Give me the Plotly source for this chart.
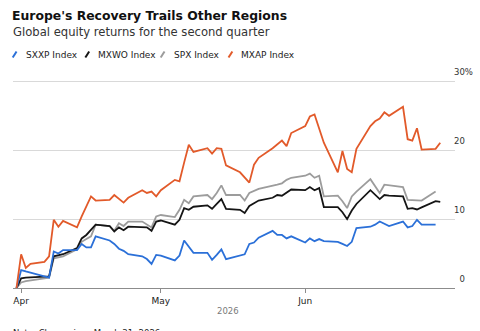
import plotly.graph_objects as go
import pandas as pd

# Trading days of the second quarter (closes since March 31, 2026)
dates = [
    "2026-03-31",
    "2026-04-01", "2026-04-02", "2026-04-03", "2026-04-06", "2026-04-07", "2026-04-08",
    "2026-04-09", "2026-04-10", "2026-04-13", "2026-04-14", "2026-04-15", "2026-04-16",
    "2026-04-17", "2026-04-20", "2026-04-21", "2026-04-22", "2026-04-23", "2026-04-24",
    "2026-04-27", "2026-04-28", "2026-04-29", "2026-04-30",
    "2026-05-01", "2026-05-04", "2026-05-05", "2026-05-06", "2026-05-07", "2026-05-08",
    "2026-05-11", "2026-05-12", "2026-05-13", "2026-05-14", "2026-05-15", "2026-05-18",
    "2026-05-19", "2026-05-20", "2026-05-21", "2026-05-22", "2026-05-25", "2026-05-26",
    "2026-05-27", "2026-05-28", "2026-05-29",
    "2026-06-01", "2026-06-02", "2026-06-03", "2026-06-04", "2026-06-05", "2026-06-08",
    "2026-06-09", "2026-06-10", "2026-06-11", "2026-06-12", "2026-06-15", "2026-06-16",
    "2026-06-17", "2026-06-18", "2026-06-19", "2026-06-22", "2026-06-23", "2026-06-24",
    "2026-06-25", "2026-06-26", "2026-06-29", "2026-06-30",
]

# Cumulative returns, % (None = no close that day)
sxxp = [
    0,
    2.6, 2.4, None, None, 1.5, 5.3, 5.0, 5.5, 5.5, 6.4, 5.9, 5.9,
    7.5, 6.9, 6.4, 5.7, 5.4, 4.9, 4.6, 4.2, 3.5, 4.8,
    4.7, 4.0, 4.7, 6.9, 6.0, 5.1, 5.1, 4.1, 4.8, 5.6, 4.2, 4.7,
    4.9, 6.4, 6.6, 7.3, 8.3, 7.7, 7.7, 7.2, 7.5,
    6.6, 7.2, 6.8, 7.1, 6.8, 6.7, 6.4, 6.1, 6.7, 8.7, 8.9, 9.2,
    9.65, 9.3, 9.0, 9.65, 8.8, 9.0, 9.9, 9.2, 9.2, None,
]
mxwo = [
    0,
    1.4, 1.5, None, None, 1.7, 4.6, 4.8, 4.9, 5.8, 7.2, 7.7, 8.5,
    9.2, 9.0, 8.2, 8.8, 8.4, 8.9, 8.9, 8.8, 8.3, 9.65,
    9.8, 9.2, 9.9, 11.6, 11.35, 11.8, 12.0, 11.5, 12.2, 12.9, 11.5, 11.35,
    10.9, 11.9, 12.3, 12.7, 13.1, 13.5, 13.4, 13.8, 14.3,
    14.2, 14.65, 14.2, 14.5, 11.75, 11.75, 11.0, 10.0, 11.25, 12.2, 14.2, 13.5,
    12.9, 13.5, 13.4, 13.3, 11.5, 11.6, 11.4, 11.7, 12.6, 12.5,
]
spx = [
    0,
    0.8, 1.0, None, None, 1.5, 4.3, 4.5, 4.6, 5.6, 6.7, 7.1, 7.5,
    9.2, 9.0, 8.3, 9.4, 9.0, 9.65, 9.65, 9.2, 8.8, 10.4,
    10.6, 10.3, 11.35, 12.8, 12.3, 13.3, 13.5, 12.9, 13.8, 14.9, 13.5, 13.5,
    12.7, 13.8, 14.1, 14.4, None, 15.0, 15.2, 15.7, 16.0,
    16.3, 16.6, 16.0, 16.3, 13.3, 13.4, 12.6, 11.6, 13.3, 14.0, 15.8, 14.8,
    13.8, 15.0, None, 14.65, 12.8, 12.8, 12.7, 12.7, 14.0, None,
]
mxap = [
    0,
    4.9, 2.9, 3.5, 3.8, 4.6, 9.9, 8.9, 9.75, 8.8, 10.4, 11.9, 13.3,
    12.7, 12.8, 13.5, 13.0, 12.4, 13.1, 14.2, 13.8, 14.0, 13.3,
    14.2, 15.7, 15.5, 18.2, 20.8, 19.75, 20.3, 19.5, 20.3, 20.2, 17.8, 16.8,
    16.1, 15.3, 17.9, 18.9, 20.3, 20.8, 21.4, 20.6, 22.5,
    23.5, 24.9, 25.2, 23.3, 21.1, 16.8, 19.9, 17.3, 16.8, 20.2, 23.5, 24.2,
    24.6, 25.5, 25.0, 26.3, 21.6, 21.4, 23.2, 20.1, 20.2, 21.1,
]

series_names = ["SXXP Index", "MXWO Index", "SPX Index", "MXAP Index"]
series_values = [sxxp, mxwo, spx, mxap]
series_colors = ["#2b70d8", "#151515", "#9c9c9c", "#e25a2a"]
draw_order = [2, 1, 0, 3]  # grey, black, blue, then orange on top

y_tickvals = [0, 10, 20, 30]
y_ticktext = ["\u20070", "10", "20", "30%"]
x_tickvals = ["2026-04-01", "2026-05-01", "2026-06-01"]
x_ticktext = ["Apr", "May", "Jun"]
year_label = "2026"

W, H = 480, 331
M = dict(l=13, r=7, t=80, b=43)
FONT = "DejaVu Sans"


def px(x):
    return (x - M["l"]) / (W - M["l"] - M["r"])


def py(y):
    return (H - M["b"] - y) / (H - M["t"] - M["b"])


fig = go.Figure()
for i in draw_order:
    fig.add_trace(go.Scatter(
        x=dates, y=series_values[i], name=series_names[i], mode="lines",
        line=dict(color=series_colors[i], width=1.8),
        connectgaps=True, showlegend=False, hoverinfo="skip",
    ))

annotations = []
shapes = []

# Legend row: a short slanted stroke followed by the index name
slash_left = [12.7, 88.3, 166.7, 237.3]
text_left = [26, 101.7, 180, 250]
for i, name in enumerate(series_names):
    shapes.append(dict(
        type="line", xref="paper", yref="paper",
        x0=px(slash_left[i]), y0=py(57.5), x1=px(slash_left[i] + 4), y1=py(51.5),
        line=dict(color=series_colors[i], width=2),
    ))
    annotations.append(dict(
        text=name, xref="paper", yref="paper", x=px(text_left[i] - 2), y=py(55),
        xanchor="left", yanchor="middle", showarrow=False,
        font=dict(family=FONT, size=9, color="#222222"),
    ))

annotations.append(dict(
    text="Global equity returns for the second quarter",
    xref="paper", yref="paper", x=px(11), y=py(32), xanchor="left", yanchor="middle",
    showarrow=False, font=dict(family=FONT, size=11.6, color="#333333"),
))

# Year label centred under the dated span
mid = pd.Timestamp(dates[0]) + (pd.Timestamp(dates[-1]) - pd.Timestamp(dates[0])) / 2
annotations.append(dict(
    text=year_label, xref="x", yref="paper", x=mid, y=py(311),
    xanchor="center", yanchor="middle", showarrow=False,
    font=dict(family=FONT, size=8.5, color="#7a7a7a"),
))

annotations.append(dict(
    text="Note: Closes since March 31, 2026",
    xref="paper", yref="paper", x=px(11), y=py(326), xanchor="left", yanchor="top",
    showarrow=False, font=dict(family=FONT, size=8.5, color="#222222"),
))

fig.update_layout(
    width=W, height=H, margin=M,
    paper_bgcolor="white", plot_bgcolor="white",
    font=dict(family=FONT),
    title=dict(
        text="Europe's Recovery Trails Other Regions",
        x=12 / W, xanchor="left", xref="container",
        y=1 - 15.5 / H, yanchor="middle", yref="container",
        font=dict(family=FONT, size=12.4, color="#111111", weight="bold"),
    ),
    annotations=annotations,
    shapes=shapes,
    xaxis=dict(
        type="date",
        range=["2026-03-30 06:00", "2026-07-03 04:00"],
        tickvals=x_tickvals, ticktext=x_ticktext,
        ticks="outside", ticklen=4, tickwidth=1, tickcolor="#8c8c8c",
        showline=True, linecolor="#8c8c8c", linewidth=1,
        showgrid=False, zeroline=False,
        tickfont=dict(family=FONT, size=9, color="#1a1a1a"),
        fixedrange=True,
    ),
    yaxis=dict(
        side="right", range=[0, 30.2],
        tickvals=y_tickvals, ticktext=y_ticktext,
        ticks="", showline=False, zeroline=False,
        showgrid=True, gridcolor="#d9d9d9", gridwidth=1,
        ticklabelposition="outside", ticklabelstandoff=-2, ticklabelshift=-9,
        tickfont=dict(family=FONT, size=8.5, color="#333333"),
        fixedrange=True,
    ),
    showlegend=False,
)

fig.write_html("out.html", config={"displayModeBar": False})
